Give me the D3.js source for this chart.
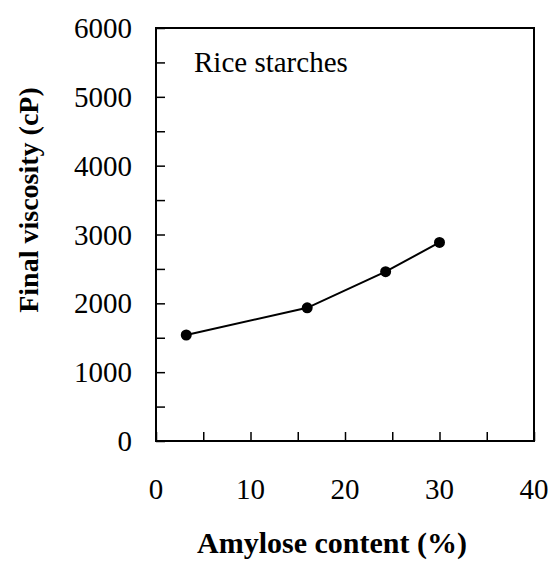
<!DOCTYPE html>
<html>
<head>
<meta charset="utf-8">
<script src="https://cdn.jsdelivr.net/npm/d3@7"></script>
<style>
  html, body { margin: 0; padding: 0; background: #fff; }
  svg { display: block; }
  text { font-family: "Liberation Serif", "Times New Roman", serif; fill: #000; }
</style>
</head>
<body>
<script>
// Final viscosity of rice starches vs amylose content
const amylose = [3.2, 16.0, 24.3, 30.0];
const finalViscosity = [1540, 1935, 2460, 2885];
const xTickLabels = [0, 10, 20, 30, 40];
const yTickLabels = [0, 1000, 2000, 3000, 4000, 5000, 6000];
const minorTicksX = [0, 5, 10, 15, 20, 25, 30, 35, 40];
const minorTicksY = [0, 500, 1000, 1500, 2000, 2500, 3000, 3500, 4000, 4500, 5000, 5500, 6000];

const W = 552, H = 562;
const plot = { left: 156, top: 28, right: 534, bottom: 441 };

const svg = d3.select("body").append("svg").attr("width", W).attr("height", H);

const x = d3.scaleLinear().domain([0, 40]).range([plot.left, plot.right]);
const y = d3.scaleLinear().domain([0, 6000]).range([plot.bottom, plot.top]);

// frame
svg.append("rect")
  .attr("x", plot.left).attr("y", plot.top)
  .attr("width", plot.right - plot.left).attr("height", plot.bottom - plot.top)
  .attr("fill", "none").attr("stroke", "#000").attr("stroke-width", 2);

// inward ticks
const yAxis = d3.axisRight(y).tickValues(minorTicksY).tickSize(9).tickFormat("");
svg.append("g").attr("transform", `translate(${plot.left},0)`).call(yAxis)
  .call(g => g.select(".domain").remove())
  .selectAll("line").attr("stroke", "#000").attr("stroke-width", 1.5);

const xAxis = d3.axisTop(x).tickValues(minorTicksX).tickSize(9).tickFormat("");
svg.append("g").attr("transform", `translate(0,${plot.bottom})`).call(xAxis)
  .call(g => g.select(".domain").remove())
  .selectAll("line").attr("stroke", "#000").attr("stroke-width", 1.5);

// tick labels
svg.append("g").selectAll("text").data(yTickLabels).join("text")
  .attr("x", plot.left - 24).attr("y", d => y(d))
  .attr("dy", "0.35em").attr("text-anchor", "end")
  .attr("font-size", 29).text(d => d);

svg.append("g").selectAll("text").data(xTickLabels).join("text")
  .attr("x", d => x(d)).attr("y", plot.bottom + 48)
  .attr("dy", "0.35em").attr("text-anchor", "middle")
  .attr("font-size", 29).text(d => d);

// axis titles
svg.append("text")
  .attr("x", 332).attr("y", 553)
  .attr("text-anchor", "middle").attr("font-size", 30).attr("font-weight", "bold")
  .text("Amylose content (%)");

svg.append("text")
  .attr("transform", `translate(38,200) rotate(-90)`)
  .attr("text-anchor", "middle").attr("font-size", 28).attr("font-weight", "bold")
  .text("Final viscosity (cP)");

// annotation
svg.append("text")
  .attr("x", 194).attr("y", 72).attr("font-size", 29)
  .text("Rice starches");

// series
const pts = amylose.map((a, i) => [a, finalViscosity[i]]);
svg.append("path")
  .datum(pts)
  .attr("fill", "none").attr("stroke", "#000").attr("stroke-width", 2)
  .attr("d", d3.line().x(d => x(d[0])).y(d => y(d[1])));

svg.append("g").selectAll("circle").data(pts).join("circle")
  .attr("cx", d => x(d[0])).attr("cy", d => y(d[1]))
  .attr("r", 5.5).attr("fill", "#000");
</script>
</body>
</html>
